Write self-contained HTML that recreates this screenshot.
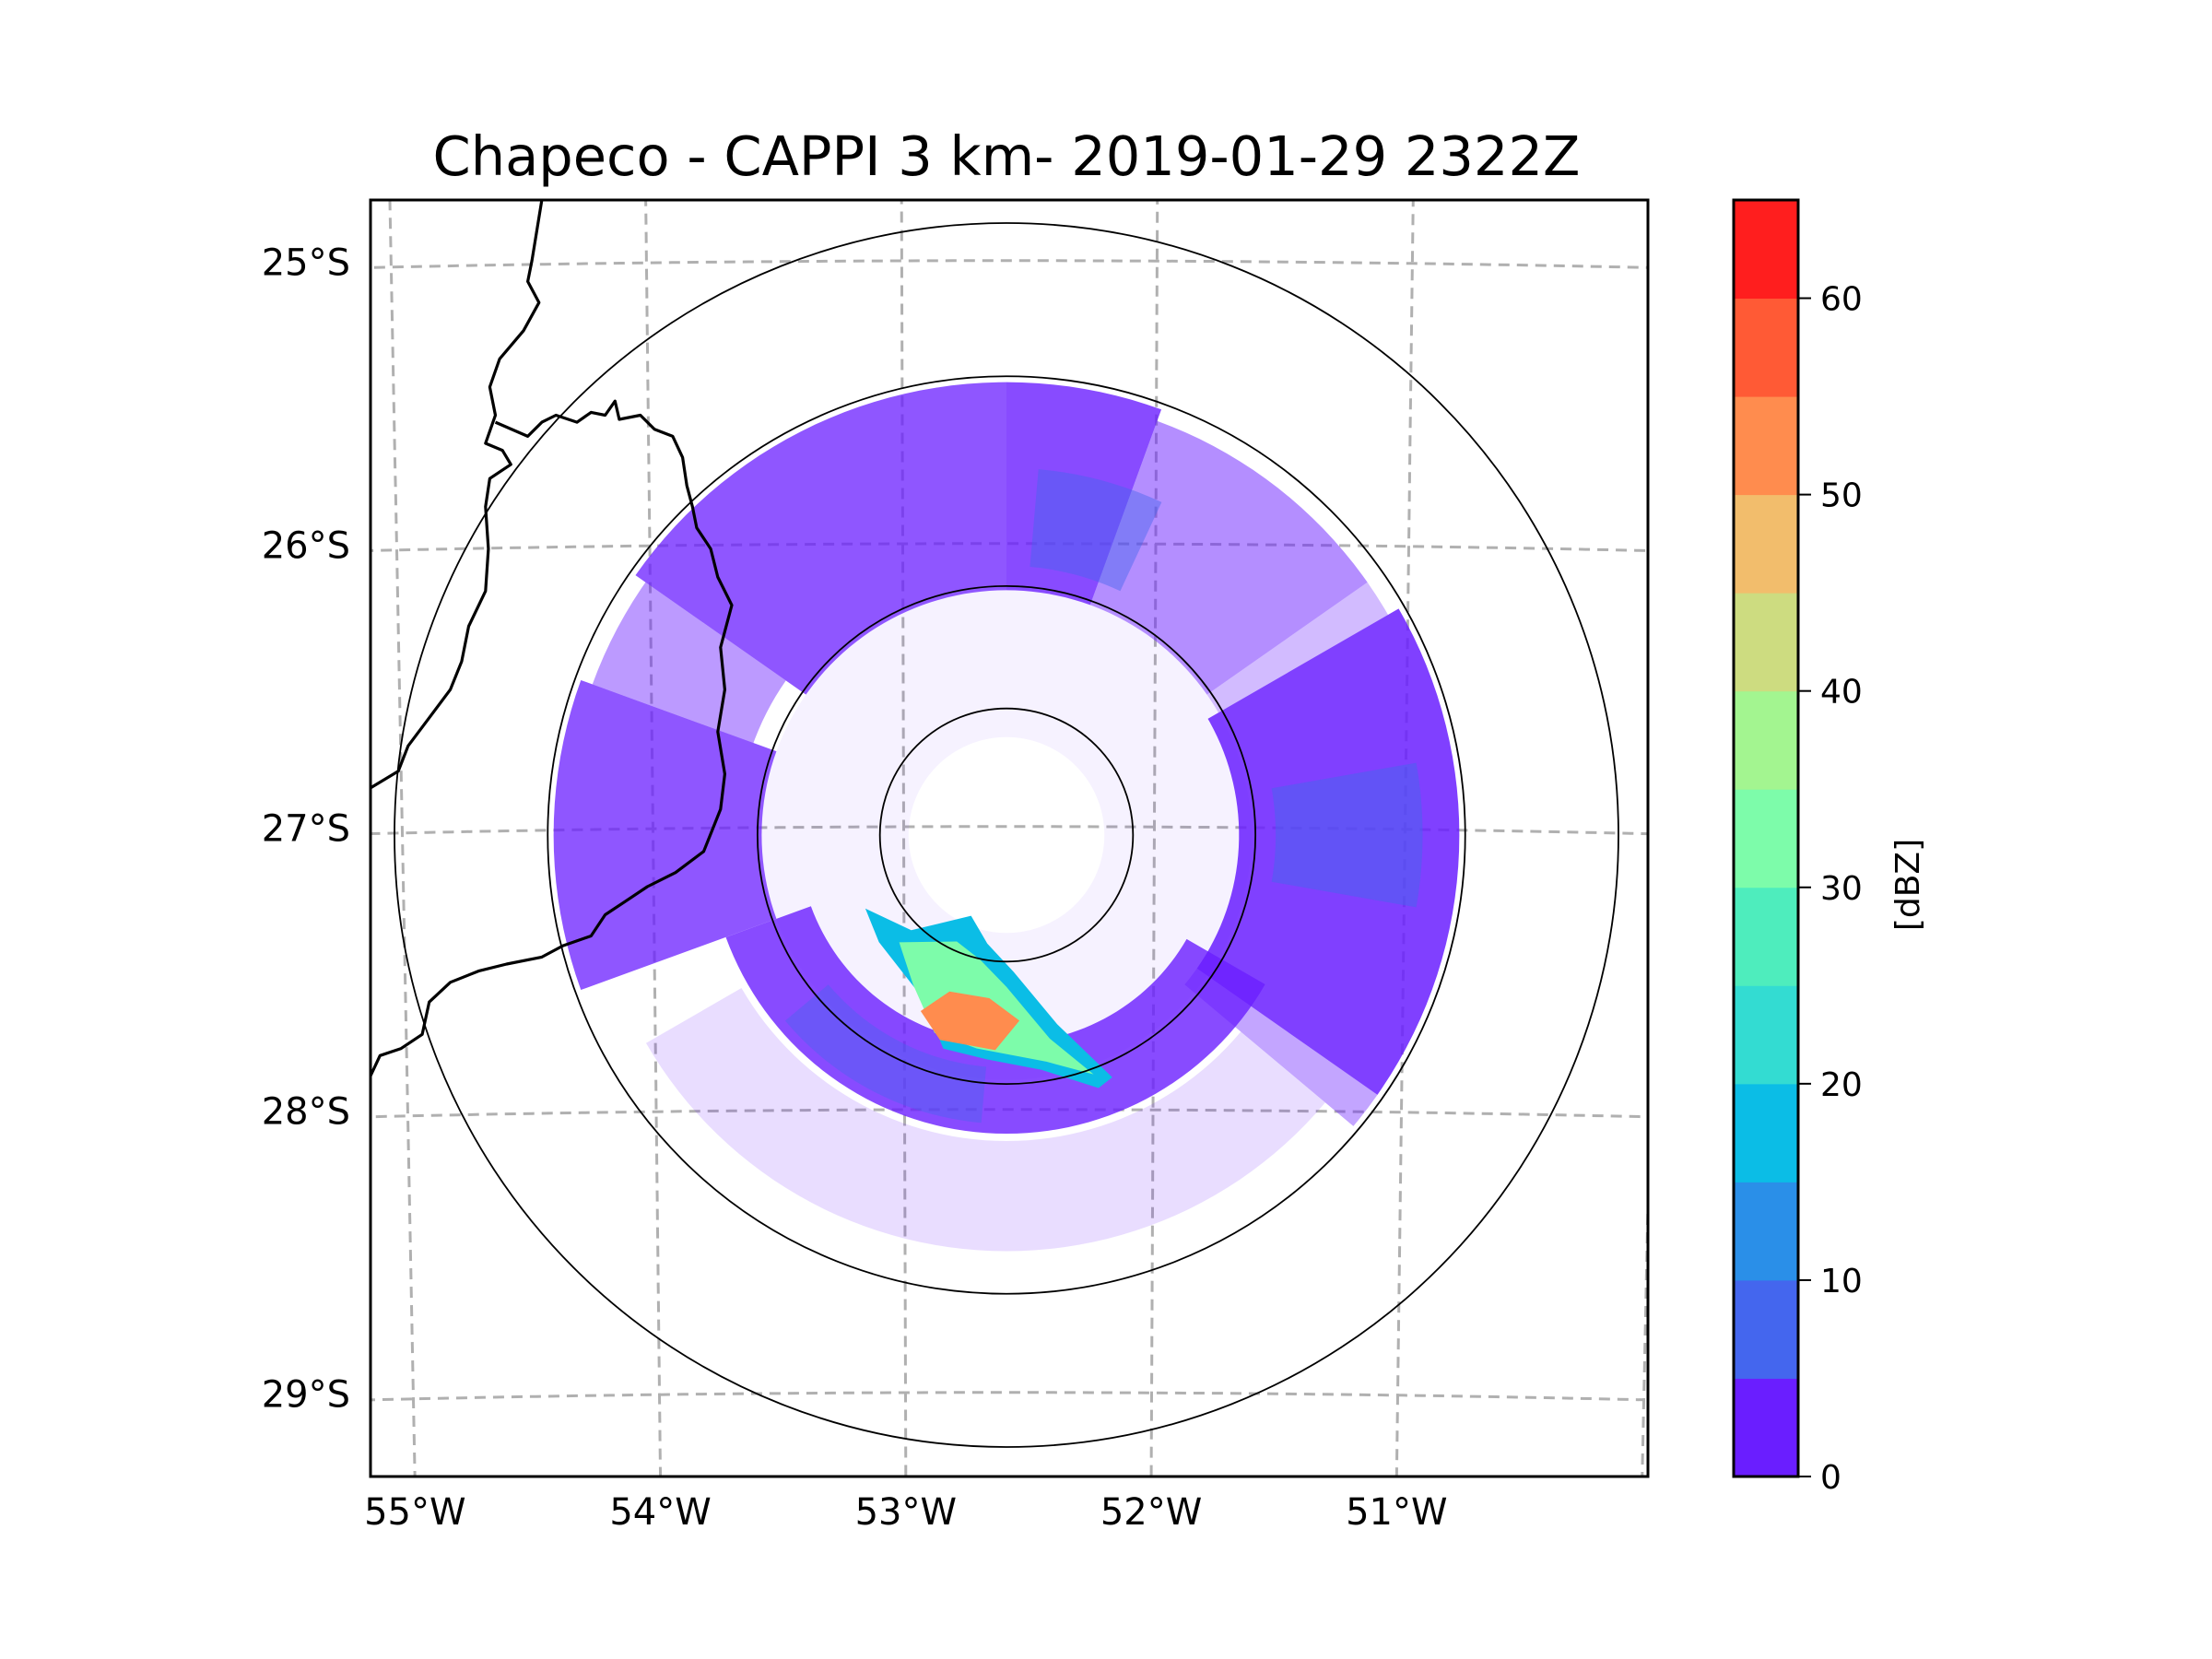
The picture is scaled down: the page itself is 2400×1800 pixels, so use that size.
<!DOCTYPE html>
<html><head><meta charset="utf-8"><style>
body{margin:0;background:#fff}
svg{display:block;font-family:"DejaVu Sans","Liberation Sans",sans-serif}
</style></head><body>
<svg id="fig" width="2400" height="1800" viewBox="0 0 2400 1800" xmlns="http://www.w3.org/2000/svg">
<rect width="2400" height="1800" fill="#fff"/>
<text x="1092" y="190" font-size="59" text-anchor="middle">Chapeco - CAPPI 3 km- 2019-01-29 2322Z</text>
<defs><clipPath id="axclip"><rect x="402" y="217" width="1386" height="1385"/></clipPath></defs>
<g id="grid" clip-path="url(#axclip)"></g>
<g id="echo" clip-path="url(#axclip)"></g>
<g id="rings" clip-path="url(#axclip)"></g>
<g id="borders" clip-path="url(#axclip)"></g>
<rect x="402" y="217" width="1386" height="1385" fill="none" stroke="#000" stroke-width="3"/>
<g id="ticks"></g>
<g id="cbar"></g>
<text transform="translate(2082,960) rotate(-90)" font-size="36" text-anchor="middle">[dBZ]</text>
</svg>
<script>
// ---- data ----
const levels = [0,5,10,15,20,25,30,35,40,45,50,55,60,65];
const levelColors = ["#6a1eff","#4466ee","#2a8fe8","#0bbde6","#33dcd2","#4eedbd","#7dfcaa","#a3f590","#cddc80","#f2bd6c","#ff8c4e","#ff5a35","#ff1e1e"];
const cbarTicks = [0,10,20,30,40,50,60];
const latTicks = [-25,-26,-27,-28,-29];
const lonTicks = [-55,-54,-53,-52,-51];
const ringKm = [51.7,101.7,187.4,250];
// echo sectors: az start, az end, inner km, outer km, dbz, coverage
const secAz0 = [305, 0, 20, 55, 60, 125, 120, 250, 290, 0, 130, 5, 80, 185];
const secAz1 = [360, 20, 55, 60, 125, 130, 250, 290, 305, 360, 240, 25, 100, 230];
const secR0  = [100, 100, 100, 100, 95, 95, 85, 100, 110, 40, 125, 110, 110, 95];
const secR1  = [185, 185, 180, 180, 185, 185, 122, 185, 180, 100, 170, 150, 170, 118];
const secDbz = [2, 2, 2, 2, 2, 2, 2, 2, 2, 2, 2, 8, 8, 8];
const secCov = [0.75, 0.8, 0.5, 0.3, 0.85, 0.4, 0.8, 0.75, 0.45, 0.06, 0.15, 0.45, 0.5, 0.4];
// convective cell layers: (azimuth deg, range km)
const cellOuterAz = [242.5, 225, 203.7, 190, 177, 165, 156.4, 160, 171.5, 185, 196.5, 207, 230];
const cellOuterKm = [65, 55, 36, 45, 56, 80, 108, 110, 97, 92, 91, 75, 68];
const cellMidAz = [225, 205, 192, 180, 168, 160, 170, 188, 200, 212];
const cellMidKm = [62, 48, 52, 62, 85, 104, 94, 88, 86, 72];
const cellCoreAz = [186, 200, 206, 198, 183, 176];
const cellCoreKm = [67, 68, 80, 88, 88, 76];
const cellCoreDbz = [15, 30, 50];
// ---- geometry ----
const NS="http://www.w3.org/2000/svg";
const CX=1092, CY=906, PPK=2.656, LON0=-52.59, LAT0=-27.03;
function px(az,km){return CX+km*PPK*Math.sin(az*Math.PI/180);}
function py(az,km){return CY-km*PPK*Math.cos(az*Math.PI/180);}
function gx(lon,lat){return CX+(lon-LON0)*(272+(lat+27)*2.5);}
function gy(lon,lat){return CY-(lat-LAT0)*307+1.2*(lon-LON0)*(lon-LON0);}
function colorFor(d){let i=0;while(i<levels.length-2&&d>=levels[i+1])i++;return levelColors[i];}
function mk(tag,parent,attrs){const e=document.createElementNS(NS,tag);for(const k in attrs)e.setAttribute(k,attrs[k]);parent.appendChild(e);return e;}
// grid
const grid=document.getElementById('grid');
latTicks.forEach(lat=>{let d="";for(let lon=-55.5;lon<=-49.9;lon+=0.1)d+=(d?"L":"M")+gx(lon,lat).toFixed(1)+","+gy(lon,lat).toFixed(1);
 const p=mk('path',grid,{d:d,fill:'none',stroke:'#b0b0b0','stroke-width':3,'stroke-dasharray':'12,8'});
 
 });
lonTicks.concat([-50]).forEach(lon=>{let d="";for(let lat=-24.5;lat>=-29.6;lat-=0.1)d+=(d?"L":"M")+gx(lon,lat).toFixed(1)+","+gy(lon,lat).toFixed(1);
 const p=mk('path',grid,{d:d,fill:'none',stroke:'#b0b0b0','stroke-width':3,'stroke-dasharray':'12,8'});
 
 });
// echo sectors
const echo=document.getElementById('echo');
function wedge(a0,a1,r0,r1){let d="M"+px(a0,r0)+","+py(a0,r0);for(let a=a0;a<=a1;a+=2)d+="L"+px(a,r1)+","+py(a,r1);d+="L"+px(a1,r1)+","+py(a1,r1);for(let a=a1;a>=a0;a-=2)d+="L"+px(a,r0)+","+py(a,r0);return d+"Z";}
secAz0.forEach((a0,i)=>{const p=mk('path',echo,{d:wedge(a0,secAz1[i],secR0[i],secR1[i]),fill:colorFor(secDbz[i]),'fill-opacity':secCov[i]});
 
 });
function poly(azs,kms,fill,name){const d=azs.map((a,i)=>(i?"L":"M")+px(a,kms[i]).toFixed(1)+","+py(a,kms[i]).toFixed(1)).join("")+"Z";
 const p=mk('path',echo,{d:d,fill:fill});
 
 }
poly(cellOuterAz,cellOuterKm,colorFor(cellCoreDbz[0]),'cell-outer');
poly(cellMidAz,cellMidKm,colorFor(cellCoreDbz[1]),'cell-mid');
poly(cellCoreAz,cellCoreKm,colorFor(cellCoreDbz[2]),'cell-core');
// rings
const rings=document.getElementById('rings');
ringKm.forEach(r=>{const c=mk('circle',rings,{cx:CX,cy:CY,r:r*PPK,fill:'none',stroke:'#000','stroke-width':1.8});
 
 });
// borders (display-scale coordinates, scaled by 1.527)
const borderA=[[385,142],[378,185],[375,200],[383,215],[372,235],[355,255],[348,275],[352,295],[345,315],[357,320],[363,330],[348,340],[345,360],[347,390],[345,420],[333,445],[328,470],[320,490],[305,510],[290,530],[283,548],[263,560]];
const borderB=[[352,300],[375,310],[385,300],[395,295],[410,300],[420,293],[430,295],[437,285],[440,298],[455,295],[465,305],[478,310],[485,325],[488,345],[492,360],[495,375],[505,390],[510,410],[520,430],[512,460],[515,490],[510,520],[515,550],[512,575],[500,605],[480,620],[460,630],[445,640],[430,650],[420,665],[400,672],[385,680],[360,685],[340,690],[320,698],[305,712],[300,735],[285,745],[270,750],[263,765]];
const bg=document.getElementById('borders');
[borderA,borderB].forEach(b=>{const d=b.map((p,i)=>(i?"L":"M")+(p[0]*1.527).toFixed(1)+","+(p[1]*1.527).toFixed(1)).join("");
 const p=mk('path',bg,{d:d,fill:'none',stroke:'#000','stroke-width':3.2,'stroke-linejoin':'round'});
 
 });
// axis tick labels
const tk=document.getElementById('ticks');
latTicks.forEach(lat=>{const t=mk('text',tk,{x:380,y:gy(-55.15,lat)+8,'font-size':40,'text-anchor':'end'});t.textContent=Math.abs(lat)+"°S";
 
 });
lonTicks.forEach(lon=>{const t=mk('text',tk,{x:gx(lon,-29.3),y:1654,'font-size':40,'text-anchor':'middle'});t.textContent=Math.abs(lon)+"°W";
 
 });
// colorbar
const cb=document.getElementById('cbar');
const CB0=1602, CB1=217, CBX=1881, CBW=70;
function cy(v){return CB0-(v-levels[0])/(levels[levels.length-1]-levels[0])*(CB0-CB1);}
levelColors.forEach((c,i)=>{const r=mk('rect',cb,{x:CBX,y:cy(levels[i+1]),width:CBW,height:cy(levels[i])-cy(levels[i+1])+0.5,fill:c});
 
 });
mk('rect',cb,{x:CBX,y:CB1,width:CBW,height:CB0-CB1,fill:'none',stroke:'#000','stroke-width':3});
cbarTicks.forEach(v=>{const l=mk('line',cb,{x1:CBX+CBW,x2:CBX+CBW+14,y1:cy(v),y2:cy(v),stroke:'#000','stroke-width':2});
 
 
 const t=mk('text',cb,{x:CBX+CBW+24,y:cy(v)+13,'font-size':36});t.textContent=v;
 
 });
</script>
</body></html>
